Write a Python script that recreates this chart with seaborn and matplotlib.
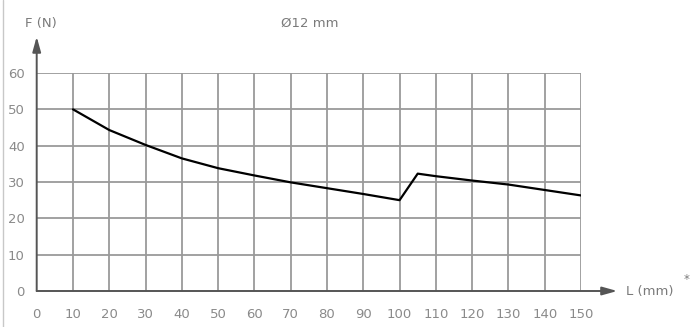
import matplotlib
matplotlib.use("Agg")
import matplotlib.pyplot as plt
import seaborn as sns
import pandas as pd
from matplotlib.lines import Line2D

# Data
L_mm = [10, 20, 30, 40, 50, 60, 70, 80, 90, 100, 105, 110, 120, 130, 140, 150]
F_N = [50, 44.3, 40.2, 36.5, 33.8, 31.8, 29.9, 28.3, 26.7, 25.0, 32.3, 31.6, 30.4, 29.3, 27.8, 26.3]
x_ticks = list(range(0, 151, 10))
y_ticks = list(range(0, 61, 10))
title = "Ø12 mm"
y_label = "F (N)"
x_label = "L (mm)"

df = pd.DataFrame({"L": L_mm, "F": F_N})

sns.set_style("white")
plt.rcParams['font.family'] = ['DejaVu Sans']

W, H = 691, 327
fig = plt.figure(figsize=(W / 100, H / 100), dpi=100)
x0, x1 = 36.7, 581.0
y0, y1 = 291.0, 73.0
ax = fig.add_axes([x0 / W, 1 - y0 / H, (x1 - x0) / W, (y0 - y1) / H])

grid_c = "#9a9a9a"
for xv in x_ticks[1:]:
    ax.axvline(xv, color=grid_c, lw=1.3, zorder=1)
for yv in y_ticks[1:]:
    ax.axhline(yv, color=grid_c, lw=1.3, zorder=1)

sns.lineplot(data=df, x="L", y="F", color="black", lw=1.6, ax=ax, zorder=3)

ax.set_xlim(0, 150)
ax.set_ylim(0, 60)
for s in ax.spines.values():
    s.set_visible(False)
ax.set_xticks(x_ticks)
ax.set_yticks(y_ticks)
ax.tick_params(axis="both", length=0, labelsize=9.5, labelcolor="#8a8a8a")
ax.tick_params(axis="x", pad=12)
ax.tick_params(axis="y", pad=8.5)
ax.set_xlabel("")
ax.set_ylabel("")

axis_c = "#555555"
ax.annotate("", xy=(160, 0), xytext=(0, 0), xycoords="data",
            arrowprops=dict(arrowstyle="-|>,head_length=0.9,head_width=0.25", color=axis_c, lw=1.4,
                            shrinkA=0, shrinkB=0), annotation_clip=False, zorder=4)
ax.annotate("", xy=(0, 70), xytext=(0, 0), xycoords="data",
            arrowprops=dict(arrowstyle="-|>,head_length=0.9,head_width=0.25", color=axis_c, lw=1.4,
                            shrinkA=0, shrinkB=0), annotation_clip=False, zorder=4)

fig.text(310 / W, 1 - 23 / H, title, ha="center", va="center", fontsize=9.5, color="#7a7a7a")
fig.text(41 / W, 1 - 24 / H, y_label, ha="center", va="center", fontsize=9.5, color="#7a7a7a")
fig.text(626 / W, 1 - 292 / H, x_label, ha="left", va="center", fontsize=9.5, color="#7a7a7a")
fig.text(687 / W, 1 - 279 / H, "*", ha="center", va="center", fontsize=8.5, color="#7a7a7a")

fig.add_artist(Line2D([3 / W, 3 / W], [0, 1], transform=fig.transFigure, color="#c8c8c8", lw=1))

fig.savefig("out.png", dpi=100)
